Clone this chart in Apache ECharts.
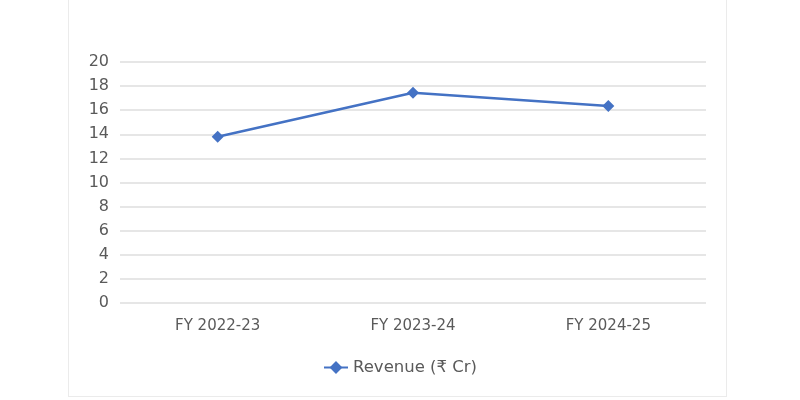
<!DOCTYPE html>
<html>
<head>
<meta charset="utf-8">
<script src="https://cdn.jsdelivr.net/npm/echarts@6/dist/echarts.min.js"></script>
<style>
	html,body{margin:0;padding:0;background:#fff;}
	.card{position:absolute;left:68px;top:-1px;width:657px;height:396px;border:1px solid #ebebeb;background:#fff;}
	#main{position:absolute;left:0;top:0;width:800px;height:400px;}
</style>
</head>
<body>
<div class="card"></div>
<div id="main"></div>
<script type="text/javascript">
	// data
	var years = ['FY 2022-23', 'FY 2023-24', 'FY 2024-25'];
	var revenue = [13.8, 17.45, 16.35];
	var seriesName = 'Revenue (₹ Cr)';

	var font = '"DejaVu Sans", sans-serif';
	var myChart = echarts.init(document.getElementById('main'));
	var option = {
		animation: false,
		textStyle: {fontFamily: font},
		grid: {left: 120, right: 94, top: 62, bottom: 97},
		legend: {
			data: [seriesName],
			top: 354,
			left: 'center',
			itemWidth: 24,
			itemHeight: 16,
			itemGap: 5,
			textStyle: {color: '#5a5a5a', fontSize: 16.5, fontFamily: font}
		},
		xAxis: {
			type: 'category',
			data: years,
			boundaryGap: true,
			axisLine: {show: false},
			axisTick: {show: false},
			axisLabel: {color: '#5a5a5a', fontSize: 15, margin: 16}
		},
		yAxis: {
			type: 'value',
			min: 0,
			max: 20,
			interval: 2,
			axisLine: {show: false},
			axisTick: {show: false},
			axisLabel: {color: '#5a5a5a', fontSize: 16, margin: 11},
			splitLine: {lineStyle: {color: '#e6e6e6', width: 2}}
		},
		series: [{
			name: seriesName,
			type: 'line',
			data: revenue,
			symbol: 'diamond',
			symbolSize: 12,
			lineStyle: {color: '#4472c4', width: 2.5},
			itemStyle: {color: '#4472c4'}
		}]
	};
	myChart.setOption(option);
</script>
</body>
</html>
